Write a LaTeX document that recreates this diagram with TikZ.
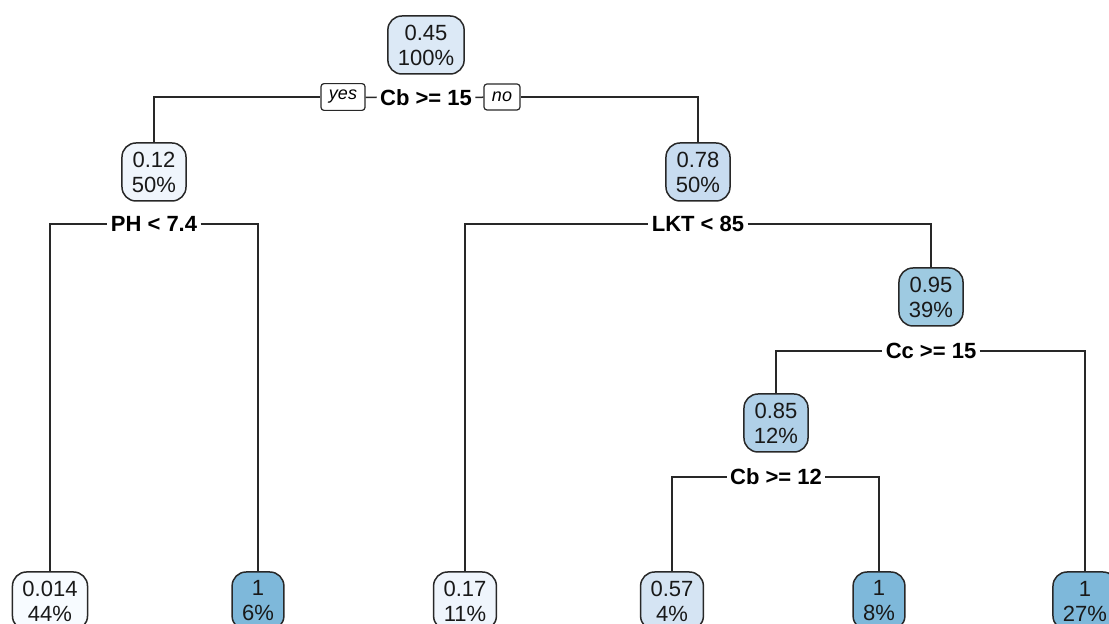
\documentclass[tikz,border=0pt]{standalone}
\usepackage{fontspec}
\setmainfont{Liberation Sans}
\usetikzlibrary{positioning}
\definecolor{trait}{RGB}{40,40,40}
\definecolor{bleu0}{RGB}{247,251,255}
\definecolor{bleu1}{RGB}{239,245,252}
\definecolor{bleu2}{RGB}{220,233,246}
\definecolor{bleu3}{RGB}{213,228,243}
\definecolor{bleu4}{RGB}{200,220,240}
\definecolor{bleu5}{RGB}{176,208,232}
\definecolor{bleu6}{RGB}{158,202,225}
\definecolor{bleu7}{RGB}{126,184,218}

\begin{document}
\begin{tikzpicture}[x=0.5pt, y=-0.5pt, font=\fontsize{11}{12.5}\selectfont,
	noeud/.style={draw=trait, line width=0.75pt, rounded corners=7pt, align=center,
		inner xsep=5pt, inner ysep=2pt, minimum height=29pt, text=black!90},
	regle/.style={fill=white, font=\bfseries\fontsize{11}{12}\selectfont, inner sep=1.5pt},
	reponse/.style={draw=trait, line width=0.6pt, rounded corners=1.5pt, fill=white,
		font=\itshape\fontsize{9}{10}\selectfont, inner xsep=4pt, minimum height=13pt}]
	\clip (0,0) rectangle (1109,624);
	% racine
	\node[noeud, fill=bleu2] (racine) at (426,45) {0.45\\100\%};
	\node[regle] (s1) at (426,98) {Cb >= 15};
	\node[reponse] (oui) at (343,97) {yes};
	\node[reponse] (non) at (502,97) {no};
	% premier niveau
	\node[noeud, fill=bleu1] (n2) at (154,172) {0.12\\50\%};
	\node[noeud, fill=bleu4] (n3) at (698,172) {0.78\\50\%};
	\node[regle] (s2) at (154,224) {PH < 7.4};
	\node[regle] (s3) at (698,224) {LKT < 85};
	% branche droite
	\node[noeud, fill=bleu6] (n4) at (931,297) {0.95\\39\%};
	\node[regle] (s4) at (931,351) {Cc >= 15};
	\node[noeud, fill=bleu5] (n5) at (776,423) {0.85\\12\%};
	\node[regle] (s5) at (776,477) {Cb >= 12};
	% feuilles
	\node[noeud, fill=bleu0] (f1) at (50,601) {0.014\\44\%};
	\node[noeud, fill=bleu7] (f2) at (258,601) {1\\6\%};
	\node[noeud, fill=bleu1] (f3) at (465,601) {0.17\\11\%};
	\node[noeud, fill=bleu3] (f4) at (672,601) {0.57\\4\%};
	\node[noeud, fill=bleu7] (f5) at (879,601) {1\\8\%};
	\node[noeud, fill=bleu7] (f6) at (1085,601) {1\\27\%};
	% branches
	\begin{scope}[draw=trait, line width=0.75pt]
		\draw (n2.north) |- (oui.west);
		\draw (oui) -- (s1);
		\draw (s1) -- (non);
		\draw (non.east) -| (n3.north);
		\draw (f1.north) |- (s2.west);
		\draw (s2.east) -| (f2.north);
		\draw (f3.north) |- (s3.west);
		\draw (s3.east) -| (n4.north);
		\draw (n5.north) |- (s4.west);
		\draw (s4.east) -| (f6.north);
		\draw (f4.north) |- (s5.west);
		\draw (s5.east) -| (f5.north);
	\end{scope}
\end{tikzpicture}
\end{document}
